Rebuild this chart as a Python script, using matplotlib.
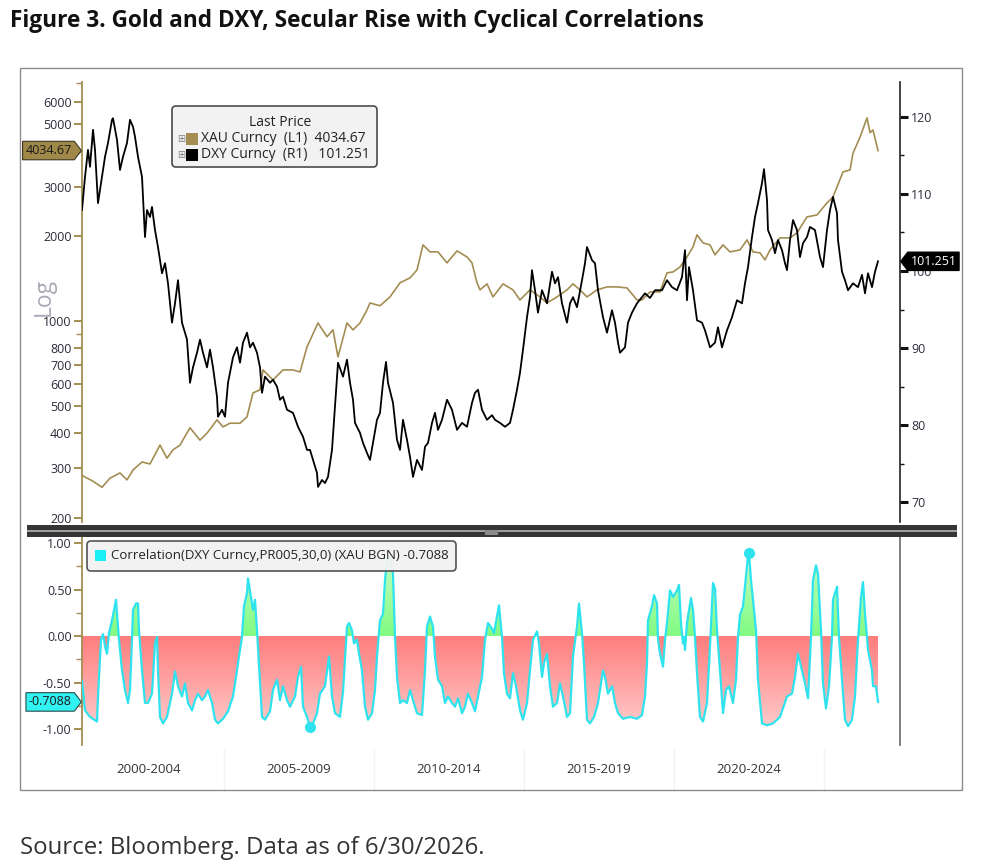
import numpy as np
import matplotlib
matplotlib.use("Agg")
import matplotlib.pyplot as plt
from matplotlib.path import Path
from matplotlib.patches import PathPatch, FancyBboxPatch, Rectangle
from matplotlib.colors import LinearSegmentedColormap
from matplotlib.ticker import FixedLocator, NullFormatter, FuncFormatter
import matplotlib.transforms as mtransforms

plt.rcParams['font.family'] = ['Open Sans', 'DejaVu Sans']

# ---------------- data (x = months since Jan 2000) ----------------
gold_month = [3.6, 7.6, 11.2, 14.4, 18.4, 21.2, 23.6, 27.2, 30.4, 34.4,
              37.2, 39.6, 42.4, 46.4, 50.4, 53.2, 57.2, 59.6, 62.4, 66.4,
              69.2, 71.6, 74.4, 75.6, 79.6, 83.6, 87.6, 90.4, 93.2, 97.6,
              101.2, 103.6, 105.6, 109.2, 111.6, 114.4, 117.2, 118.4, 122.4, 126.4,
              130.4, 134.4, 137.2, 139.6, 142.4, 145.6, 149.2, 153.2, 157.2, 159.2,
              161.2, 162.4, 165.2, 167.6, 171.6, 175.6, 178.4, 182.4, 186.4, 189.2,
              193.2, 197.2, 199.6, 202.4, 205.2, 209.2, 213.2, 217.2, 221.2, 225.2,
              227.2, 230.4, 234.4, 237.2, 239.6, 242.4, 245.2, 247.6, 249.2, 251.6,
              254.4, 256.4, 259.6, 262.4, 266.4, 269.2, 271.6, 274.4, 276.4, 278.4,
              282.4, 286.4, 289.2, 293.2, 297.2, 301.2, 303.6, 305.2, 307.6, 310.4,
              311.6, 314.4, 317.2, 318.4, 319.6, 321.6]
gold_value = [282, 270, 257, 277, 289, 273, 296, 316, 311, 363,
              326, 349, 363, 418, 378, 400, 446, 421, 434, 434,
              457, 556, 570, 671, 618, 671, 671, 660, 810, 985,
              880, 931, 746, 985, 931, 985, 1096, 1160, 1134, 1219,
              1368, 1424, 1520, 1865, 1762, 1762, 1610, 1776, 1690, 1610,
              1368, 1291, 1356, 1219, 1356, 1291, 1189, 1291, 1219, 1160,
              1219, 1291, 1356, 1291, 1219, 1291, 1323, 1323, 1312, 1189,
              1189, 1270, 1270, 1484, 1495, 1557, 1690, 1835, 2024, 1896,
              1865, 1719, 1865, 1762, 1790, 1943, 1762, 1748, 1650, 1790,
              1975, 1975, 2058, 2345, 2383, 2629, 2760, 2995, 3390, 3442,
              3950, 4500, 5270, 4670, 4774, 4034.67]

dxy_month = [3.2, 4.4, 5.6, 6.4, 7.6, 8.4, 9.6, 11.2, 12.4, 13.6,
             15.2, 15.6, 17.2, 18.4, 19.6, 21.2, 22.4, 23.6, 24.4, 25.6,
             27.2, 28.4, 29.2, 30.4, 31.2, 32.4, 33.6, 35.2, 36.4, 37.6,
             39.2, 40.4, 41.6, 43.2, 45.2, 46.4, 47.6, 49.2, 50.4, 51.6,
             53.2, 54.4, 55.6, 57.2, 57.6, 59.2, 60.4, 61.6, 63.6, 65.2,
             66.4, 67.6, 69.2, 70.4, 71.6, 73.2, 74.4, 75.2, 76.4, 78.4,
             79.6, 81.2, 82.4, 83.6, 85.2, 87.6, 89.6, 91.6, 93.2, 94.4,
             95.6, 97.2, 97.6, 99.2, 100.4, 101.6, 103.2, 104.4, 105.6, 107.6,
             109.2, 110.4, 111.6, 112.4, 114.4, 115.6, 117.2, 118.4, 119.6, 121.2,
             122.4, 123.6, 124.8, 125.6, 127.6, 129.2, 130.4, 131.6, 133.2, 134.4,
             135.6, 137.2, 139.2, 140.4, 141.6, 143.2, 144.4, 145.6, 147.2, 149.2,
             151.2, 153.2, 155.2, 157.2, 159.2, 160.4, 161.6, 163.2, 165.2, 167.2,
             168.4, 170.4, 172.4, 174.4, 175.6, 177.2, 178.4, 179.6, 181.2, 182.4,
             183.2, 184.4, 185.6, 187.2, 189.2, 191.2, 192.4, 193.6, 195.2, 197.2,
             198.4, 199.6, 201.2, 203.2, 204.4, 205.2, 207.2, 208.4, 209.6, 211.6,
             213.2, 215.2, 216.4, 217.6, 218.4, 220.4, 221.6, 223.2, 225.2, 227.2,
             228.4, 230.4, 232.4, 235.2, 237.2, 239.2, 241.2, 243.2, 244.4, 245.2,
             246.0, 247.6, 249.2, 251.2, 252.4, 254.4, 256.4, 257.6, 259.2, 261.2,
             263.2, 265.2, 267.2, 268.4, 269.6, 271.2, 272.4, 273.6, 275.2, 276.0,
             277.2, 277.6, 279.2, 280.4, 281.6, 283.2, 284.4, 285.2, 286.4, 287.6,
             289.2, 290.4, 291.6, 293.2, 294.4, 296.4, 298.4, 299.6, 301.2, 302.4,
             303.6, 305.2, 305.6, 307.2, 308.4, 309.6, 311.6, 313.6, 315.2, 316.4,
             317.6, 319.2, 320.4, 321.6]
dxy_value = [107.9, 112.2, 115.7, 113.5, 118.3, 115.7, 108.8, 112.2, 114.8, 116.6,
             119.6, 119.8, 117.0, 113.1, 114.8, 116.6, 119.6, 118.7, 117.4, 114.8,
             112.2, 104.4, 107.9, 107.0, 108.3, 105.3, 103.1, 99.7, 101.0, 98.4,
             93.3, 95.8, 98.8, 93.3, 91.1, 85.5, 87.5, 89.4, 91.1, 89.4,
             87.5, 89.8, 87.5, 83.7, 81.1, 82.0, 81.1, 85.5, 88.8, 90.1,
             88.1, 90.7, 92.0, 90.1, 90.7, 89.4, 87.5, 84.2, 86.3, 85.5,
             85.9, 85.0, 83.3, 83.7, 82.0, 81.6, 79.8, 78.5, 76.8, 76.8,
             75.5, 73.8, 72.0, 72.9, 72.5, 73.3, 76.8, 82.4, 88.1, 86.3,
             88.5, 85.5, 83.3, 80.3, 79.0, 77.7, 76.4, 75.5, 77.7, 80.7,
             81.6, 85.5, 88.2, 85.5, 82.9, 78.1, 76.8, 80.7, 78.1, 75.9,
             73.3, 75.5, 74.2, 77.2, 77.7, 80.3, 81.6, 79.4, 80.7, 83.3,
             82.0, 79.4, 80.3, 79.8, 82.9, 84.2, 84.6, 82.0, 80.7, 81.3,
             80.7, 80.3, 79.8, 80.3, 82.0, 84.6, 86.8, 89.8, 94.0, 96.6,
             100.1, 97.5, 94.6, 97.5, 95.8, 99.9, 98.4, 99.2, 95.8, 93.3,
             95.8, 96.6, 95.3, 98.8, 101.0, 103.1, 101.4, 101.0, 97.5, 94.0,
             92.0, 94.9, 93.3, 90.7, 89.4, 90.1, 93.3, 94.6, 95.8, 96.6,
             97.1, 96.5, 97.5, 97.5, 98.8, 97.9, 97.5, 99.2, 102.7, 96.2,
             100.5, 97.5, 93.6, 93.3, 92.3, 90.1, 90.7, 92.7, 90.1, 92.3,
             94.0, 96.2, 95.8, 98.4, 100.5, 104.4, 107.0, 108.8, 111.4, 113.2,
             109.2, 105.3, 104.0, 102.3, 104.0, 102.7, 101.0, 100.1, 104.0, 106.6,
             105.3, 101.8, 103.6, 104.4, 105.7, 105.3, 101.8, 100.5, 105.3, 107.9,
             109.6, 107.5, 104.0, 99.9, 98.8, 97.5, 98.4, 97.9, 99.5, 97.1,
             99.7, 97.9, 99.9, 101.251]

corr_month = [3.2, 4.4, 6.4, 9.2, 9.6, 10.8, 11.6, 12.4, 13.2, 14.0,
              15.2, 16.0, 16.8, 17.2, 18.0, 19.2, 20.4, 21.6, 22.4, 23.2,
              23.6, 24.8, 25.6, 26.0, 27.2, 28.4, 29.6, 31.2, 32.4, 33.2,
              33.6, 34.4, 35.6, 37.2, 39.2, 40.4, 41.6, 43.2, 44.4, 45.6,
              47.2, 48.4, 49.6, 51.2, 52.4, 53.6, 55.2, 56.4, 57.6, 59.6,
              61.6, 63.6, 65.2, 66.0, 67.2, 68.0, 69.2, 69.6, 70.8, 71.6,
              72.4, 73.2, 74.4, 75.2, 76.4, 78.4, 79.6, 81.2, 82.4, 83.6,
              85.2, 86.4, 88.4, 89.6, 90.8, 91.6, 93.2, 94.4, 95.6, 97.2,
              98.4, 100.4, 102.0, 103.2, 104.4, 106.4, 107.6, 109.2, 110.0, 111.2,
              112.0, 113.2, 114.0, 115.2, 116.4, 117.6, 119.2, 120.4, 121.2, 122.4,
              123.6, 124.4, 125.2, 126.4, 127.6, 128.4, 129.2, 130.4, 131.6, 133.2,
              134.4, 135.6, 137.2, 139.2, 140.4, 141.2, 142.4, 143.6, 144.4, 145.6,
              147.2, 148.4, 149.6, 151.2, 152.4, 153.6, 155.2, 156.4, 157.6, 159.2,
              160.4, 161.6, 163.2, 164.4, 165.6, 167.2, 168.0, 169.2, 170.0, 171.2,
              172.0, 173.2, 174.4, 175.6, 176.8, 178.4, 179.6, 181.2, 182.4, 183.6,
              185.2, 186.0, 187.2, 188.0, 189.2, 190.4, 191.6, 193.2, 194.4, 195.6,
              197.2, 198.4, 199.6, 201.2, 202.0, 203.2, 204.0, 205.2, 206.4, 208.0,
              209.6, 211.6, 212.4, 213.6, 215.2, 216.4, 217.6, 219.6, 222.4, 225.2,
              227.2, 228.4, 229.2, 229.6, 231.2, 232.0, 233.2, 233.6, 234.4, 235.6,
              236.4, 237.2, 238.4, 239.6, 241.2, 242.0, 242.8, 243.6, 244.0, 244.4,
              245.2, 246.8, 247.6, 248.4, 249.2, 250.4, 251.6, 253.2, 254.4, 255.6,
              256.4, 257.2, 258.4, 259.6, 260.8, 262.0, 263.6, 264.8, 265.6, 266.4,
              267.6, 269.2, 269.6, 270.0, 270.8, 271.6, 272.8, 273.6, 275.2, 277.2,
              279.6, 282.4, 285.2, 287.2, 288.4, 289.6, 291.2, 292.4, 293.6, 294.8,
              295.6, 296.8, 297.6, 298.8, 299.6, 300.8, 302.0, 303.2, 303.6, 305.2,
              306.0, 307.2, 308.4, 309.6, 311.2, 312.4, 313.6, 314.8, 315.6, 316.4,
              317.2, 317.6, 319.2, 319.6, 320.8, 321.6]
corr_value = [-0.48, -0.80, -0.87, -0.92, -0.65, -0.04, 0.02, -0.11, -0.19, 0.03,
              0.17, 0.28, 0.39, 0.24, -0.04, -0.37, -0.58, -0.72, -0.58, -0.04,
              0.28, 0.35, 0.35, 0.06, -0.37, -0.72, -0.72, -0.62, -0.08, -0.01,
              -0.37, -0.87, -0.94, -0.87, -0.62, -0.38, -0.54, -0.65, -0.51, -0.72,
              -0.80, -0.69, -0.62, -0.69, -0.65, -0.58, -0.72, -0.90, -0.94, -0.89,
              -0.81, -0.65, -0.37, -0.22, -0.01, 0.32, 0.46, 0.62, 0.42, 0.28,
              0.39, 0.06, -0.51, -0.87, -0.90, -0.81, -0.58, -0.47, -0.69, -0.54,
              -0.69, -0.76, -0.65, -0.44, -0.33, -0.76, -0.87, -0.98, -0.94, -0.83,
              -0.62, -0.54, -0.22, -0.65, -0.83, -0.87, -0.60, 0.10, 0.14, 0.06,
              -0.08, -0.04, -0.19, -0.37, -0.76, -0.90, -0.83, -0.58, -0.22, 0.17,
              0.24, 0.60, 0.82, 0.85, 0.67, -0.01, -0.44, -0.72, -0.69, -0.72,
              -0.58, -0.69, -0.83, -0.85, -0.37, 0.10, 0.21, 0.10, -0.22, -0.47,
              -0.54, -0.72, -0.65, -0.72, -0.76, -0.67, -0.83, -0.76, -0.62, -0.72,
              -0.81, -0.65, -0.44, -0.04, 0.14, 0.08, 0.03, 0.21, 0.33, -0.01,
              -0.40, -0.62, -0.67, -0.40, -0.54, -0.80, -0.90, -0.72, -0.37, -0.04,
              0.05, -0.08, -0.44, -0.29, -0.19, -0.54, -0.76, -0.72, -0.51, -0.65,
              -0.87, -0.83, -0.22, 0.10, 0.35, 0.03, -0.29, -0.90, -0.94, -0.87,
              -0.72, -0.37, -0.44, -0.62, -0.54, -0.72, -0.83, -0.89, -0.87, -0.89,
              -0.85, -0.65, -0.29, 0.17, 0.32, 0.44, 0.35, -0.04, -0.19, -0.33,
              -0.04, 0.14, 0.49, 0.42, 0.49, 0.55, 0.14, -0.08, -0.01, -0.15,
              0.14, 0.41, 0.28, -0.01, -0.40, -0.87, -0.92, -0.72, -0.11, 0.57,
              0.51, 0.06, -0.37, -0.83, -0.58, -0.54, -0.72, -0.47, -0.01, 0.23,
              0.32, 0.75, 0.87, 0.89, 0.60, 0.39, 0.06, -0.47, -0.94, -0.96,
              -0.94, -0.87, -0.65, -0.62, -0.44, -0.19, -0.37, -0.51, -0.67, -0.01,
              0.60, 0.76, 0.67, 0.06, -0.51, -0.78, -0.54, -0.01, 0.39, 0.53,
              -0.01, -0.47, -0.90, -0.97, -0.90, -0.65, -0.04, 0.42, 0.58, 0.24,
              -0.01, -0.15, -0.37, -0.54, -0.54, -0.7088]

period_labels = ["2000-2004", "2005-2009", "2010-2014", "2015-2019", "2020-2024"]
period_centers = [30, 90, 150, 210, 270]
period_bounds = [60, 120, 180, 240, 300]
gold_ticks = [200, 300, 400, 500, 600, 700, 800, 1000, 2000, 3000, 5000, 6000]
gold_minor = [900, 4000, 7000]
dxy_ticks = [70, 80, 90, 100, 110, 120]
dxy_minor = [75, 85, 95, 105, 115]
corr_ticks = [-1.0, -0.5, 0.0, 0.5, 1.0]
corr_minor = [-0.75, -0.25, 0.25, 0.75]

title = "Figure 3. Gold and DXY, Secular Rise with Cyclical Correlations"
source = "Source: Bloomberg. Data as of 6/30/2026."

# ---------------- styling ----------------
GOLD = '#A38D52'
CYAN = '#2FE3EE'
LBL = '#2B2B3B'
W, H = 984, 867
XLIM = (3.2, 330.4)

fig = plt.figure(figsize=(W / 100, H / 100), dpi=100)
fig.patch.set_facecolor('white')


def rect_px(x0, y0, x1, y1):
    return [x0 / W, 1 - y1 / H, (x1 - x0) / W, (y1 - y0) / H]


def tag_style(direction):
    def box(x0, y0, width, height, mutation_size):
        pad = 0.22 * mutation_size
        x0 -= pad
        y0 -= pad
        w = width + 2 * pad
        h = height + 2 * pad
        tip = 0.38 * h
        if direction == 'right':
            v = [(x0, y0), (x0 + w, y0), (x0 + w + tip, y0 + h / 2),
                 (x0 + w, y0 + h), (x0, y0 + h), (x0, y0)]
        else:
            v = [(x0, y0), (x0 + w, y0), (x0 + w, y0 + h), (x0, y0 + h),
                 (x0 - tip, y0 + h / 2), (x0, y0)]
        return Path(v, closed=True)
    return box


ax1 = fig.add_axes(rect_px(82, 82, 900, 522))
ax1r = ax1.twinx()
ax2 = fig.add_axes(rect_px(82, 537, 900, 745))

gm, gv = np.array(gold_month), np.array(gold_value)
dm, dv = np.array(dxy_month), np.array(dxy_value)
cm, cv = np.array(corr_month), np.array(corr_value)

# ---- top panel ----
ax1.plot(gm, gv, color=GOLD, lw=1.2, zorder=3)
ax1.set_yscale('log')
ax1.set_ylim(193.5, 7066)
ax1.set_xlim(*XLIM)
ax1.yaxis.set_major_locator(FixedLocator(gold_ticks))
ax1.yaxis.set_major_formatter(FuncFormatter(lambda v, p: f"{v:.0f}"))
ax1.yaxis.set_minor_locator(FixedLocator(gold_minor))
ax1.yaxis.set_minor_formatter(NullFormatter())
ax1.tick_params(axis='y', which='major', direction='out', length=6, width=1.4,
                color=GOLD, labelsize=9, labelcolor=LBL, pad=1.5)
ax1.tick_params(axis='y', which='minor', direction='out', length=4, width=1, color=GOLD)
ax1.tick_params(axis='x', which='both', bottom=False, labelbottom=False)
for s in ['top', 'right', 'bottom']:
    ax1.spines[s].set_visible(False)
ax1.spines['left'].set_color(GOLD)
ax1.spines['left'].set_linewidth(1.3)

ax1r.plot(dm, dv, color='black', lw=1.3, zorder=3)
ax1r.set_ylim(67.45, 124.5)
ax1r.yaxis.set_major_locator(FixedLocator(dxy_ticks))
ax1r.yaxis.set_minor_locator(FixedLocator(dxy_minor))
ax1r.tick_params(axis='y', which='major', direction='out', length=6, width=2.2,
                 color='#111111', labelsize=9, labelcolor=LBL, pad=2)
ax1r.tick_params(axis='y', which='minor', direction='out', length=3, width=1, color='#111111')
for s in ['top', 'left', 'bottom']:
    ax1r.spines[s].set_visible(False)
ax1r.spines['right'].set_color('#222222')
ax1r.spines['right'].set_linewidth(1.2)

tl = mtransforms.blended_transform_factory(ax1.transAxes, ax1.transData)
ax1.annotate(f"{gold_value[-1]:.2f}", xy=(0, gold_value[-1]), xycoords=tl,
             xytext=(-7.5, 0), textcoords='offset points', ha='right', va='center',
             fontsize=9, color='#1A1A1A', annotation_clip=False, zorder=6,
             bbox=dict(boxstyle=tag_style('right'), fc='#A08848', ec='#3D3520', lw=0.8))
tr = mtransforms.blended_transform_factory(ax1r.transAxes, ax1r.transData)
ax1r.annotate(f"{dxy_value[-1]:.3f}", xy=(1, dxy_value[-1]), xycoords=tr,
              xytext=(7.5, 0), textcoords='offset points', ha='left', va='center',
              fontsize=9, color='white', annotation_clip=False, zorder=6,
              bbox=dict(boxstyle=tag_style('left'), fc='black', ec='black', lw=0.8))

# ---- bottom panel ----
def grad_fill(ax, x, y, where, colors, y0, y1):
    coll = ax.fill_between(x, y, 0, where=where, interpolate=True,
                           facecolor='none', edgecolor='none')
    comp = Path.make_compound_path(*coll.get_paths())
    patch = PathPatch(comp, transform=ax.transData, facecolor='none', edgecolor='none')
    ax.add_patch(patch)
    cmap = LinearSegmentedColormap.from_list('g', colors)
    grad = np.linspace(0, 1, 256).reshape(-1, 1)
    im = ax.imshow(grad, cmap=cmap, aspect='auto', origin='lower', interpolation='bilinear',
                   extent=(x.min(), x.max(), y0, y1), zorder=2)
    im.set_clip_path(patch)


grad_fill(ax2, cm, cv, cv <= 0, ['#FFD4D4', '#FF7C7C'], -1.1, 0)
grad_fill(ax2, cm, cv, cv >= 0, ['#82FB82', '#CCFFCC'], 0, 1.0)
ax2.plot(cm, cv, color=CYAN, lw=1.6, zorder=5)
imin, imax = int(np.argmin(cv)), int(np.argmax(cv))
ax2.plot([cm[imin], cm[imax]], [cv[imin], cv[imax]], 'o', color=CYAN, ms=7, zorder=6)
ax2.set_xlim(*XLIM)
ax2.set_ylim(-1.172, 1.065)
ax2.yaxis.set_major_locator(FixedLocator(corr_ticks))
ax2.yaxis.set_major_formatter(FuncFormatter(lambda v, p: f"{v:.2f}"))
ax2.yaxis.set_minor_locator(FixedLocator(corr_minor))
ax2.tick_params(axis='y', which='major', direction='out', length=6, width=1.4,
                color=GOLD, labelsize=9, labelcolor=LBL, pad=1.5)
ax2.tick_params(axis='y', which='minor', direction='out', length=4, width=1, color=GOLD)
ax2.set_xticks(period_centers)
ax2.set_xticklabels(period_labels)
ax2.tick_params(axis='x', length=0, pad=13, labelsize=9.5, labelcolor='#333333')
for s in ['top', 'bottom']:
    ax2.spines[s].set_visible(False)
ax2.spines['left'].set_color(GOLD)
ax2.spines['left'].set_linewidth(1.3)
ax2.spines['right'].set_color('#6A6A6A')
ax2.spines['right'].set_linewidth(1.2)
tb = mtransforms.blended_transform_factory(ax2.transData, ax2.transAxes)
for b in period_bounds:
    ax2.plot([b, b], [-0.02, -0.22], transform=tb, color='#F3F3F3', lw=1, clip_on=False)

tl2 = mtransforms.blended_transform_factory(ax2.transAxes, ax2.transData)
ax2.annotate(f"{corr_value[-1]:.4f}", xy=(0, corr_value[-1]), xycoords=tl2,
             xytext=(-7.5, 0), textcoords='offset points', ha='right', va='center',
             fontsize=9, color='#1A1A1A', annotation_clip=False, zorder=7,
             bbox=dict(boxstyle=tag_style('right'), fc='#33F2F2', ec='#2A4A4A', lw=0.8))

# ---- overlay (legends, separator, frame) ----
ov = fig.add_axes([0, 0, 1, 1], zorder=10)
ov.set_xlim(0, W)
ov.set_ylim(H, 0)
ov.axis('off')
ov.patch.set_visible(False)

ov.add_patch(Rectangle((20, 68), 942, 722, fill=False, ec='#8C8C8C', lw=1))
ov.add_patch(Rectangle((27, 525), 930, 12, fc='#353535', ec='none'))
ov.add_patch(Rectangle((27, 529.5), 930, 2.5, fc='#9E9E9E', ec='none'))
ov.add_patch(Rectangle((485, 530), 13, 5, fc='#8A8A8A', ec='none'))

ov.add_patch(FancyBboxPatch((172, 106), 205, 61, boxstyle='round,pad=0,rounding_size=4',
                            fc='#F2F2F2', ec='#4A4A4A', lw=1.2))
ov.text(280, 122, 'Last Price', ha='center', va='center', fontsize=10, color='#222222')
for yy, col, txt in [(139, GOLD, f"XAU Curncy  (L1)  {gold_value[-1]:.2f}"),
                     (155, 'black', f"DXY Curncy  (R1)   {dxy_value[-1]:.3f}")]:
    ov.text(181, yy, '⊞', ha='center', va='center', fontsize=7, color='#808080',
            family='DejaVu Sans')
    ov.add_patch(Rectangle((186, yy - 6), 12, 12, fc=col, ec='none'))
    ov.text(201, yy, txt, ha='left', va='center', fontsize=10, color='#222222')

ov.add_patch(FancyBboxPatch((87, 541), 369, 30, boxstyle='round,pad=0,rounding_size=4',
                            fc='#F2F2F2', ec='#4A4A4A', lw=1.2, alpha=0.95))
ov.add_patch(Rectangle((95, 550), 11, 11, fc='#19F0F5', ec='none'))
ov.text(111, 556, f"Correlation(DXY Curncy,PR005,30,0) (XAU BGN) {corr_value[-1]:.4f}",
        ha='left', va='center', fontsize=9.5, color='#222222')

ov.text(44, 297, 'Log', rotation=90, ha='center', va='center', fontsize=16.5, color='#A7AAB5')

fig.text(10 / W, 1 - 21 / H, title, ha='left', va='center', fontsize=16.3,
         fontweight='bold', color='#111111')
fig.text(20 / W, 1 - 848 / H, source, ha='left', va='center', fontsize=17.3, color='#333333')

fig.savefig('out.png', dpi=100)
